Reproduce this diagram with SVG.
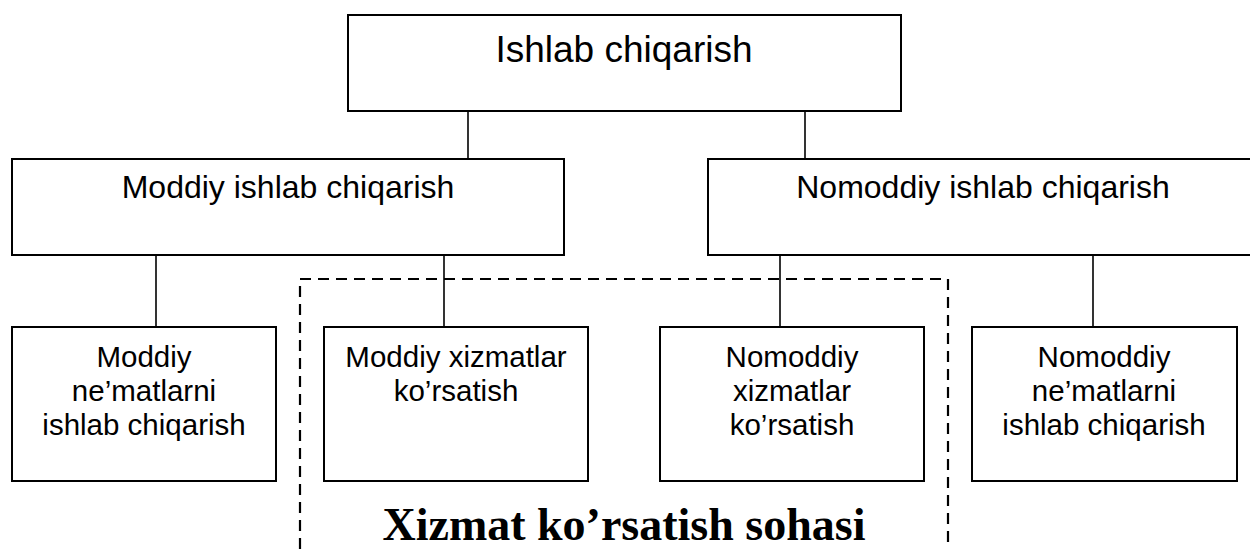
<svg xmlns="http://www.w3.org/2000/svg" width="1250" height="549" viewBox="0 0 1250 549">
<style>
.box{fill:#fff;stroke:#000;stroke-width:2}
.conn{stroke:#000;stroke-width:1.6;fill:none}
.dash{stroke:#000;stroke-width:2.2;fill:none;stroke-dasharray:11 7}
.t{font-family:"Liberation Sans",Arial,sans-serif;fill:#000;text-anchor:middle}
.big{font-size:37px}
.mid{font-size:32px}
.sm{font-size:29.5px}
.lbl{font-family:"Liberation Serif","Times New Roman",serif;font-weight:bold;font-size:46px;text-anchor:middle;fill:#000}
</style>
<rect width="1250" height="549" fill="#fff"/>
<g id="connectors">
<line class="conn" x1="468" y1="111" x2="468" y2="159"/>
<line class="conn" x1="805" y1="111" x2="805" y2="159"/>
<line class="conn" x1="156" y1="255" x2="156" y2="327"/>
<line class="conn" x1="444" y1="255" x2="444" y2="327"/>
<line class="conn" x1="780" y1="255" x2="780" y2="327"/>
<line class="conn" x1="1093" y1="255" x2="1093" y2="327"/>
</g>
<g id="service-area">
<path class="dash" d="M300,549 L300,279 L948,279 L948,549"/>
<text class="lbl" x="624" y="540">Xizmat ko’rsatish sohasi</text>
</g>
<g id="n-ishlab">
<rect class="box" x="348" y="15" width="553" height="96"/>
<text class="t big" x="624" y="62">Ishlab chiqarish</text>
</g>
<g id="n-moddiy">
<rect class="box" x="12" y="159" width="552" height="96"/>
<text class="t mid" x="288" y="198">Moddiy ishlab chiqarish</text>
</g>
<g id="n-nomoddiy">
<rect class="box" x="708" y="159" width="552" height="96"/>
<text class="t mid" x="983" y="198">Nomoddiy ishlab chiqarish</text>
</g>
<g id="n-moddiy-nematlar">
<rect class="box" x="12" y="327" width="264" height="154"/>
<text class="t sm" x="144" y="367">Moddiy</text>
<text class="t sm" x="144" y="401">ne’matlarni</text>
<text class="t sm" x="144" y="435">ishlab chiqarish</text>
</g>
<g id="n-moddiy-xizmatlar">
<rect class="box" x="324" y="327" width="264" height="154"/>
<text class="t sm" x="456" y="367">Moddiy xizmatlar</text>
<text class="t sm" x="456" y="401">ko’rsatish</text>
</g>
<g id="n-nomoddiy-xizmatlar">
<rect class="box" x="660" y="327" width="264" height="154"/>
<text class="t sm" x="792" y="367">Nomoddiy</text>
<text class="t sm" x="792" y="401">xizmatlar</text>
<text class="t sm" x="792" y="435">ko’rsatish</text>
</g>
<g id="n-nomoddiy-nematlar">
<rect class="box" x="972" y="327" width="265" height="154"/>
<text class="t sm" x="1104" y="367">Nomoddiy</text>
<text class="t sm" x="1104" y="401">ne’matlarni</text>
<text class="t sm" x="1104" y="435">ishlab chiqarish</text>
</g>
</svg>
